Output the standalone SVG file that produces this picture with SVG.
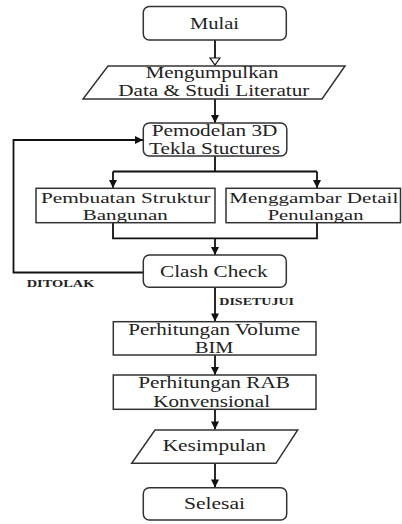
<svg xmlns="http://www.w3.org/2000/svg" width="402" height="524" viewBox="0 0 402 524">
<defs>
<style>
.box{fill:#fff;stroke:#333;stroke-width:1.5}
.t{font-family:"Liberation Serif","Times New Roman",serif;font-size:17px;fill:#222}
.s{font-size:15px}
.lb{font-family:"Liberation Serif","Times New Roman",serif;font-size:10.5px;font-weight:bold;fill:#222}
.c{fill:none;stroke:#111;stroke-width:1.8}
</style>
<marker id="ah" markerUnits="userSpaceOnUse" markerWidth="10" markerHeight="10" viewBox="0 0 10 10" refX="9" refY="5" orient="auto">
<path d="M1,1 L9,5 L1,9 z" fill="#111"/>
</marker>
<marker id="ho" markerUnits="userSpaceOnUse" markerWidth="12" markerHeight="12" viewBox="0 0 12 12" refX="11" refY="6" orient="auto">
<path d="M4,1 L11,6 L4,11 z" fill="#fff" stroke="#111" stroke-width="1.2"/>
</marker>
</defs>
<rect width="402" height="524" fill="#fff"/>
<g id="connectors">
<path class="c" d="M215,40 V65" marker-end="url(#ho)"/>
<path class="c" d="M215,99 V123" marker-end="url(#ah)"/>
<path class="c" d="M215,156 V171.5"/>
<path class="c" d="M113,171.5 H317"/>
<path class="c" d="M113,171.5 V188" marker-end="url(#ah)"/>
<path class="c" d="M317,171.5 V188" marker-end="url(#ah)"/>
<path class="c" d="M113,222.7 V238.3 H317 V222.7"/>
<path class="c" d="M215,238.3 V255" marker-end="url(#ah)"/>
<path class="c" d="M143,272.5 H13.5 V140 H143" marker-end="url(#ah)"/>
<path class="c" d="M215,287.3 V321.5" marker-end="url(#ah)"/>
<path class="c" d="M215,355 V375" marker-end="url(#ah)"/>
<path class="c" d="M215,409.3 V429.5" marker-end="url(#ah)"/>
<path class="c" d="M215,463.3 V487.5" marker-end="url(#ah)"/>
<text class="lb" x="26.7" y="287.3" textLength="67.7" lengthAdjust="spacingAndGlyphs">DITOLAK</text>
<text class="lb" x="219.3" y="305" textLength="74.7" lengthAdjust="spacingAndGlyphs">DISETUJUI</text>
</g>
<g id="mulai">
<rect class="box" x="143.3" y="6.5" width="143" height="33.5" rx="6"/>
<text class="t" x="190" y="29.3" textLength="49" lengthAdjust="spacingAndGlyphs">Mulai</text>
</g>
<g id="mengumpulkan">
<polygon class="box" points="108,66 345,66 322,99 83,99"/>
<text class="t" x="145.7" y="77.5" textLength="132.7" lengthAdjust="spacingAndGlyphs">Mengumpulkan</text>
<text class="t" x="118.3" y="96" textLength="191" lengthAdjust="spacingAndGlyphs">Data &amp; Studi Literatur</text>
</g>
<g id="pemodelan">
<rect class="box" x="143.3" y="123" width="143.5" height="33" rx="6"/>
<text class="t" x="151.7" y="135.7" textLength="125.7" lengthAdjust="spacingAndGlyphs">Pemodelan 3D</text>
<text class="t" x="149" y="154.3" textLength="131" lengthAdjust="spacingAndGlyphs">Tekla Stuctures</text>
</g>
<g id="pembuatan">
<rect class="box" x="36" y="188.3" width="179" height="34.4"/>
<text class="t s" x="41" y="202.8" textLength="169.7" lengthAdjust="spacingAndGlyphs">Pembuatan Struktur</text>
<text class="t s" x="82.7" y="219.5" textLength="85" lengthAdjust="spacingAndGlyphs">Bangunan</text>
</g>
<g id="menggambar">
<rect class="box" x="226" y="188.3" width="174.5" height="34.4"/>
<text class="t s" x="229.3" y="202.8" textLength="169" lengthAdjust="spacingAndGlyphs">Menggambar Detail</text>
<text class="t s" x="267.7" y="219.5" textLength="95.7" lengthAdjust="spacingAndGlyphs">Penulangan</text>
</g>
<g id="clash">
<rect class="box" x="143.3" y="255" width="143" height="32.3" rx="6"/>
<text class="t" x="160" y="276.7" textLength="107.7" lengthAdjust="spacingAndGlyphs">Clash Check</text>
</g>
<g id="volume">
<rect class="box" x="113.3" y="321.7" width="202.7" height="33.3"/>
<text class="t" x="128.3" y="335" textLength="171.7" lengthAdjust="spacingAndGlyphs">Perhitungan Volume</text>
<text class="t" x="195" y="352.7" textLength="38.3" lengthAdjust="spacingAndGlyphs">BIM</text>
</g>
<g id="rab">
<rect class="box" x="113.3" y="375" width="202.7" height="34.3"/>
<text class="t" x="138.3" y="388.3" textLength="151.7" lengthAdjust="spacingAndGlyphs">Perhitungan RAB</text>
<text class="t" x="153.3" y="406.7" textLength="116.7" lengthAdjust="spacingAndGlyphs">Konvensional</text>
</g>
<g id="kesimpulan">
<polygon class="box" points="155,430 297.7,430 276,463.3 131.7,463.3"/>
<text class="t" x="162.7" y="450.7" textLength="103.3" lengthAdjust="spacingAndGlyphs">Kesimpulan</text>
</g>
<g id="selesai">
<rect class="box" x="143.3" y="487.7" width="143.4" height="32.3" rx="6"/>
<text class="t" x="184" y="509" textLength="61" lengthAdjust="spacingAndGlyphs">Selesai</text>
</g>
</svg>
